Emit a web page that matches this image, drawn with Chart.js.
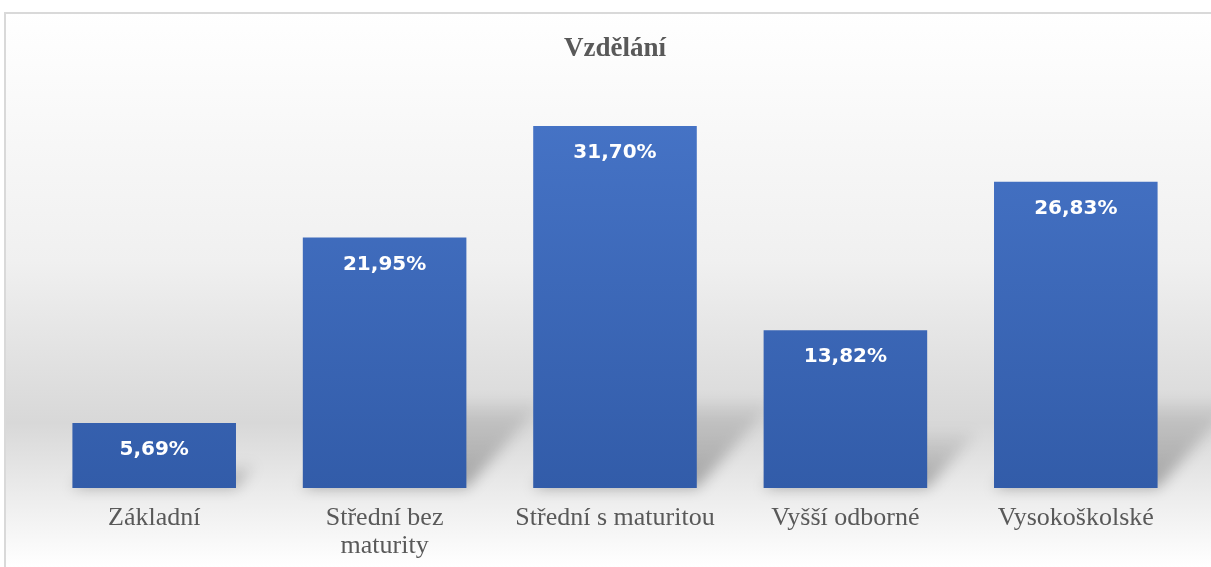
<!DOCTYPE html>
<html>
<head>
<meta charset="utf-8">
<script src="https://cdn.jsdelivr.net/npm/chart.js@4.4.1/dist/chart.umd.min.js"></script>
<style>
  html, body { margin: 0; padding: 0; background: #ffffff; }
  #wrap { width: 1211px; height: 567px; position: relative; }
</style>
</head>
<body>
<div id="wrap"><canvas id="eduChart" width="1211" height="567"></canvas></div>
<script>
// data
const categories = ['Základní', ['Střední bez', 'maturity'], 'Střední s maturitou', 'Vyšší odborné', 'Vysokoškolské'];
const shares = [5.69, 21.95, 31.70, 13.82, 26.83];
const chartTitle = 'Vzdělání';

// background, frame, bar shadows and value labels
const backdrop = {
  id: 'backdrop',
  beforeDraw(chart) {
    const ctx = chart.ctx;
    const g = ctx.createLinearGradient(0, 12, 0, 567);
    g.addColorStop(0, '#ffffff');
    g.addColorStop(0.45, '#f0f0f0');
    g.addColorStop(0.74, '#d8d8d8');
    g.addColorStop(0.87, '#ececec');
    g.addColorStop(1, '#ffffff');
    ctx.save();
    ctx.fillStyle = g;
    ctx.fillRect(4, 12, chart.width - 4, chart.height - 12);
    ctx.strokeStyle = '#d9d9d9';
    ctx.lineWidth = 2;
    ctx.beginPath();
    ctx.moveTo(5, chart.height);
    ctx.lineTo(5, 13);
    ctx.lineTo(chart.width, 13);
    ctx.stroke();
    ctx.restore();
  },
  beforeDatasetsDraw(chart) {
    const ctx = chart.ctx;
    const meta = chart.getDatasetMeta(0);
    ctx.save();
    ctx.filter = 'blur(7px)';
    meta.data.forEach(bar => {
      const x0 = bar.x - bar.width / 2;
      const x1 = bar.x + bar.width / 2;
      const base = bar.base;
      const h = Math.min((base - bar.y) * 0.35, 85);
      const dx = h * 0.9;
      const g = ctx.createLinearGradient(0, base, 0, base - h);
      g.addColorStop(0, 'rgba(0,0,0,0.30)');
      g.addColorStop(1, 'rgba(0,0,0,0.05)');
      ctx.fillStyle = g;
      ctx.beginPath();
      ctx.moveTo(x0, base);
      ctx.lineTo(x1, base);
      ctx.lineTo(x1 + dx, base - h);
      ctx.lineTo(x0 + dx, base - h);
      ctx.closePath();
      ctx.fill();
    });
    ctx.restore();
  },
  afterDatasetsDraw(chart) {
    const ctx = chart.ctx;
    const meta = chart.getDatasetMeta(0);
    ctx.save();
    ctx.fillStyle = '#ffffff';
    ctx.font = 'bold 20px "DejaVu Sans"';
    ctx.textAlign = 'center';
    ctx.textBaseline = 'middle';
    meta.data.forEach((bar, i) => {
      ctx.fillText(shares[i].toFixed(2).replace('.', ',') + '%', bar.x, bar.y + 27);
    });
    ctx.restore();
  }
};

const ctx = document.getElementById('eduChart').getContext('2d');
const chart = new Chart(ctx, {
  type: 'bar',
  data: {
    labels: categories,
    datasets: [{
      data: shares,
      backgroundColor: function(c) {
        const area = c.chart.chartArea;
        if (!area) return '#4070c0';
        const g = c.chart.ctx.createLinearGradient(0, area.top, 0, area.bottom);
        g.addColorStop(0, '#4775c8');
        g.addColorStop(1, '#325ca9');
        return g;
      },
      borderWidth: 0,
      barPercentage: 0.71,
      categoryPercentage: 1
    }]
  },
  options: {
    responsive: false,
    animation: false,
    layout: { padding: { left: 39, right: 20, top: 0, bottom: 0 } },
    scales: {
      x: {
        grid: { display: false, drawTicks: false },
        border: { display: false },
        afterFit: function(scale) { scale.height = 79; },
        ticks: {
          color: '#595959',
          padding: 16,
          maxRotation: 0,
          autoSkip: false,
          font: { family: '"Liberation Serif"', size: 26, lineHeight: 1.08 }
        }
      },
      y: {
        display: false,
        min: 0,
        max: 35
      }
    },
    plugins: {
      legend: { display: false },
      tooltip: { enabled: false },
      title: {
        display: true,
        text: chartTitle,
        color: '#595959',
        padding: { top: 33, bottom: 23 },
        font: { family: '"Liberation Serif"', size: 27, weight: 'bold', lineHeight: 1.2 }
      }
    }
  },
  plugins: [backdrop]
});
</script>
</body>
</html>
